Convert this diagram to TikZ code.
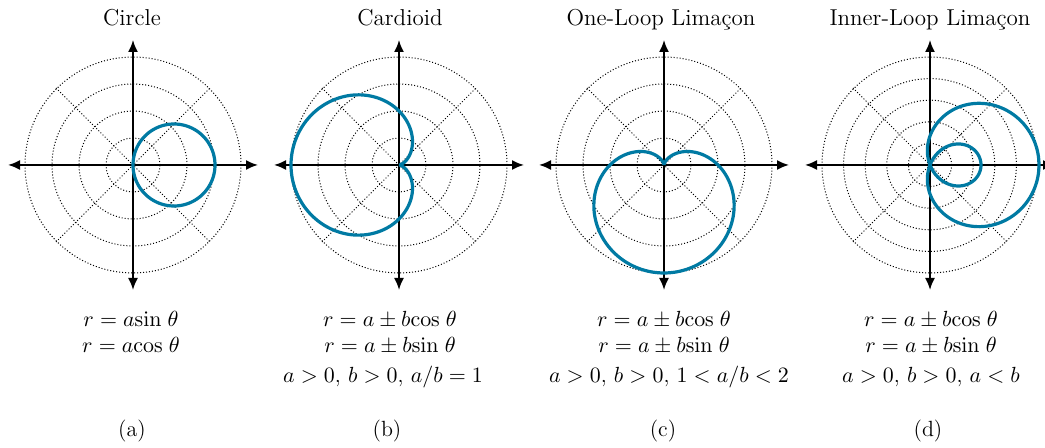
\documentclass[tikz,border=0pt]{standalone}
\usepackage{xcolor}
\usepackage{tikz}
\usetikzlibrary{arrows.meta,positioning}

\definecolor{curveblue}{RGB}{0,122,163}

\begin{document}
\begin{tikzpicture}[
    x=0.5pt, y=0.5pt,
    ring/.style={densely dotted, line width=0.5pt},
    axis/.style={{Latex[length=6pt,width=5pt]}-{Latex[length=6pt,width=5pt]}, line width=0.9pt},
    polar/.style={curveblue, line width=1.6pt, smooth, samples=241},
    txt/.style={anchor=base, inner sep=0pt, font=\fontsize{11}{13}\selectfont},
    title/.style={txt, font=\fontsize{11.5}{14}\selectfont}
  ]
    \useasboundingbox (0,0) rectangle (1045,448);

    %% ---- Polar grids: centre x / number of rings ----
    \foreach \cx/\n in {133/4, 399/4, 664/4, 930/5} {
      \foreach \k in {1,...,\n}
        \draw[ring] (\cx,283) circle[radius={108*\k/\n}];
      \draw[ring] (\cx-77,206) -- (\cx+77,360);
      \draw[ring] (\cx-77,360) -- (\cx+77,206);
      \draw[axis] (\cx-125,283) -- (\cx+125,283);
      \draw[axis] (\cx,158) -- (\cx,408);
    }

    %% ---- (a) Circle ----
    \begin{scope}[shift={(133,283)}]
      \draw[polar] plot[domain=-90:90] ({82*cos(\x)*cos(\x)}, {82*cos(\x)*sin(\x)});
    \end{scope}
    \node[title] (ta) at (132,422) {Circle};
    \node[txt] (ea1) at (131,121) {$r = a\mathrm{sin}\;\theta$};
    \node[txt] (ea2) at (131,95) {$r = a\mathrm{cos}\;\theta$};
    \node[txt] (la) at (132,11) {(a)};

    %% ---- (b) Cardioid ----
    \begin{scope}[shift={(399,283)}]
      \draw[polar] plot[domain=0:360] ({54*(1-cos(\x))*cos(\x)}, {54*(1-cos(\x))*sin(\x)});
    \end{scope}
    \node[title] (tb) at (400,422) {Cardioid};
    \node[txt] (eb1) at (390,121) {$r = a \pm b\mathrm{cos}\;\theta$};
    \node[txt] (eb2) at (390,95) {$r = a \pm b\mathrm{sin}\;\theta$};
    \node[txt] (eb3) at (383,65) {$a > 0$, $b > 0$, $a/b = 1$};
    \node[txt] (lb) at (387,11) {(b)};

    %% ---- (c) One-loop limacon ----
    \begin{scope}[shift={(664,283)}]
      \draw[polar] plot[domain=0:360] ({54*(1-sin(\x))*cos(\x)}, {54*(1-sin(\x))*sin(\x)});
    \end{scope}
    \node[title] (tc) at (661,422) {One-Loop Limaçon};
    \node[txt] (ec1) at (664,121) {$r = a \pm b\mathrm{cos}\;\theta$};
    \node[txt] (ec2) at (664,95) {$r = a \pm b\mathrm{sin}\;\theta$};
    \node[txt] (ec3) at (669,65) {$a > 0$, $b > 0$, $1 < a/b < 2$};
    \node[txt] (lc) at (663,11) {(c)};

    %% ---- (d) Inner-loop limacon ----
    \begin{scope}[shift={(930,283)}]
      \draw[polar] plot[domain=0:360] ({(29+80*cos(\x))*cos(\x)}, {(29+80*cos(\x))*sin(\x)});
    \end{scope}
    \node[title] (td) at (930,422) {Inner-Loop Limaçon};
    \node[txt] (ed1) at (931,121) {$r = a \pm b\mathrm{cos}\;\theta$};
    \node[txt] (ed2) at (931,95) {$r = a \pm b\mathrm{sin}\;\theta$};
    \node[txt] (ed3) at (931,65) {$a > 0$, $b > 0$, $a < b$};
    \node[txt] (ld) at (928,11) {(d)};
  \end{tikzpicture}
\end{document}
